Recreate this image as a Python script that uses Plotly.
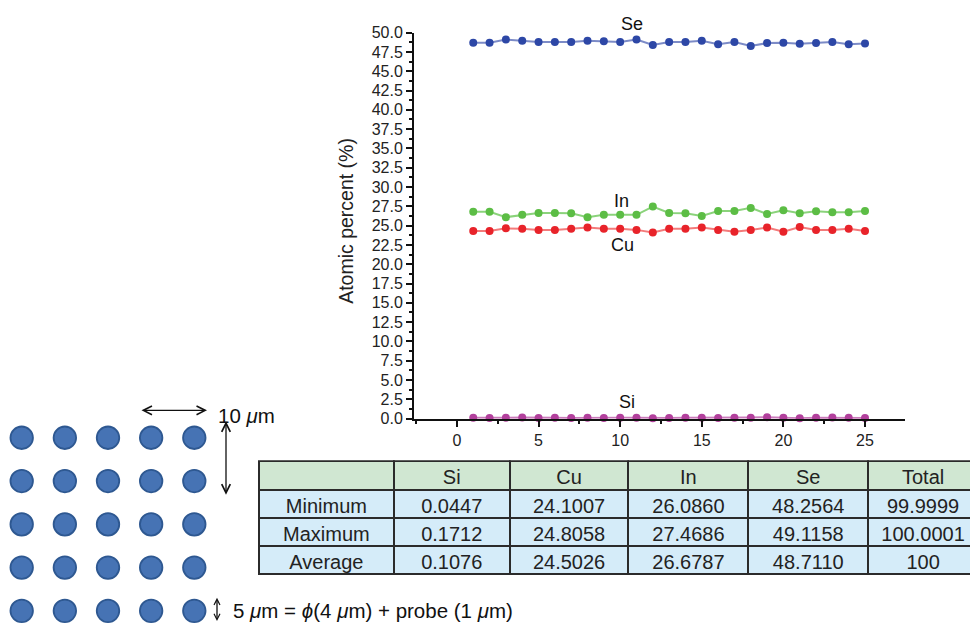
import plotly.graph_objects as go

# ---------------- data ----------------
points = list(range(1, 26))
se_vals = [48.7, 48.7, 49.1, 48.95, 48.8, 48.8, 48.8, 48.95, 48.9, 48.8, 49.1, 48.4, 48.8,
           48.8, 48.95, 48.5, 48.8, 48.26, 48.65, 48.7, 48.55, 48.65, 48.8, 48.5, 48.6]
in_vals = [26.8, 26.8, 26.1, 26.4, 26.65, 26.65, 26.6, 26.09, 26.4, 26.4, 26.4, 27.47, 26.65,
           26.6, 26.25, 26.9, 26.9, 27.3, 26.5, 27.0, 26.6, 26.85, 26.75, 26.75, 26.9]
cu_vals = [24.3, 24.3, 24.65, 24.6, 24.45, 24.45, 24.6, 24.75, 24.6, 24.6, 24.45, 24.1, 24.6,
           24.6, 24.75, 24.45, 24.2, 24.45, 24.75, 24.2, 24.81, 24.45, 24.45, 24.6, 24.3]
si_vals = [0.12, 0.09, 0.11, 0.14, 0.08, 0.10, 0.09, 0.12, 0.07, 0.13, 0.11, 0.06, 0.09,
           0.12, 0.10, 0.08, 0.11, 0.13, 0.17, 0.10, 0.05, 0.12, 0.14, 0.11, 0.09]

series_names = ["In", "Cu", "Si"]
label_x = [10.09, 10.15, 10.4]
label_y = [28.24, 22.5, 2.1]

table_header = ["", "Si", "Cu", "In", "Se", "Total"]
row_labels = ["Minimum", "Maximum", "Average"]
si_stats = ["0.0447", "0.1712", "0.1076"]
cu_stats = ["24.1007", "24.8058", "24.5026"]
in_stats = ["26.0860", "27.4686", "26.6787"]
se_stats = ["48.2564", "49.1158", "48.7110"]
total_stats = ["99.9999", "100.0001", "100"]

grid_cols = [1, 2, 3, 4, 5]
grid_rows = [1, 2, 3, 4, 5]

# ---------------- page geometry ----------------
OFFX = 8           # left page margin
W, H = 970, 617
TOP = 16           # space above the figure on the page
SY = 625 / (TOP + H + 8)   # vertical fit of the photographed page


def px(x):
    return (x - OFFX) / W


def py(y):
    return 1 - (y / SY - TOP) / H


colors = {"Se": "#2d47a6", "In": "#5cbd45", "Cu": "#e8232a", "Si": "#b2409c"}
line_colors = {"Se": "rgba(80,100,180,0.75)", "In": "rgba(110,200,90,0.8)",
               "Cu": "rgba(240,90,90,0.8)", "Si": "rgba(190,90,170,0.8)"}
vals = {"Se": se_vals, "In": in_vals, "Cu": cu_vals, "Si": si_vals}
FONT = "Liberation Sans, Arial, sans-serif"
TFONT = "Liberation Sans Narrow, Arial Narrow, Liberation Sans, Arial"

fig = go.Figure()

for name in ["Si", "Cu", "In", "Se"]:
    fig.add_trace(go.Scatter(
        x=points, y=vals[name], mode="lines+markers", name=name,
        line=dict(color=line_colors[name], width=2),
        marker=dict(color=colors[name], size=8),
        cliponaxis=False, xaxis="x", yaxis="y"))

# dot grid
gx = [c for r in grid_rows for c in grid_cols]
gy = [r for r in grid_rows for c in grid_cols]
ybot = SY * (TOP + H)  # photographed y of the figure bottom
fig.add_trace(go.Scatter(
    x=gx, y=gy, mode="markers",
    marker=dict(size=22.5, color="#4673b4", line=dict(color="#2e5891", width=1.8)),
    xaxis="x2", yaxis="y2", hoverinfo="skip", cliponaxis=False))

# table
fig.add_trace(go.Table(
    domain=dict(x=[px(259), 1.0], y=[0.0, py(462)]),
    columnwidth=[135, 116, 119, 120, 120, 110],
    header=dict(values=table_header, fill_color="#d0e7d2",
                line=dict(color="#2b2b2b", width=2),
                font=dict(family=TFONT, size=20, color="#222"),
                align="center", height=28 / SY),
    cells=dict(values=[row_labels, si_stats, cu_stats, in_stats, se_stats, total_stats],
               fill_color="#d5ecf9",
               line=dict(color="#2b2b2b", width=2),
               font=dict(family=TFONT, size=20, color="#222"),
               align="center", height=27.3 / SY)))

annotations = []
for n, lx, ly in zip(series_names, label_x, label_y):
    annotations.append(dict(x=lx, y=ly, xref="x", yref="y", text=n, showarrow=False,
                            xanchor="center", yanchor="middle",
                            font=dict(family=FONT, size=18, color="#111")))
# Se label sits above the plotting range
annotations.append(dict(x=10.71, y=py(24), xref="x", yref="paper", text="Se", showarrow=False,
                        xanchor="center", yanchor="middle",
                        font=dict(family=FONT, size=18, color="#111")))

annotations.append(dict(x=px(346), y=py(221), xref="paper", yref="paper",
                        text="Atomic percent (%)", textangle=-90, showarrow=False,
                        xanchor="center", yanchor="middle",
                        font=dict(family=FONT, size=19.5, color="#222")))

arrow_style = dict(showarrow=True, arrowhead=5, startarrowhead=5, arrowside="end+start",
                   arrowwidth=1.3, arrowsize=1.3, startarrowsize=1.3, arrowcolor="#111", text="")
# horizontal 10 um arrow
annotations.append(dict(x=px(207), y=py(411), xref="paper", yref="paper",
                        ax=-67, ay=0, **arrow_style))
annotations.append(dict(x=px(216), y=py(416), xref="paper", yref="paper",
                        text="10 <i>μ</i>m", showarrow=False, xanchor="left", yanchor="middle",
                        font=dict(family=FONT, size=20.5, color="#111")))
# vertical arrow
annotations.append(dict(x=px(226), y=py(422), xref="paper", yref="paper",
                        ax=0, ay=73 / SY, **arrow_style))
# small vertical arrow
small_arrow = dict(arrow_style)
small_arrow.update(arrowsize=0.9, startarrowsize=0.9)
annotations.append(dict(x=px(217), y=py(599), xref="paper", yref="paper",
                        ax=0, ay=24 / SY, **small_arrow))
annotations.append(dict(x=px(231), y=py(612), xref="paper", yref="paper",
                        text="5 <i>μ</i>m = <i>ϕ</i>(4 <i>μ</i>m) + probe (1 <i>μ</i>m)",
                        showarrow=False, xanchor="left", yanchor="middle",
                        font=dict(family=FONT, size=20.5, color="#111")))

fig.update_layout(
    width=W, height=H, margin=dict(l=0, r=0, t=0, b=0),
    paper_bgcolor="white", plot_bgcolor="rgba(0,0,0,0)", showlegend=False,
    font=dict(family=FONT, color="#222"),
    xaxis=dict(domain=[px(414), px(905)], range=[-2.63, 27.45], anchor="y",
               tickvals=[0, 5, 10, 15, 20, 25], ticks="outside", ticklen=6, tickwidth=2,
               tickcolor="#111", showline=True, linecolor="#111", linewidth=2,
               showgrid=False, zeroline=False, tickfont=dict(size=16, color="#222"),
               minor=dict(dtick=2.5, tick0=0, ticks="outside", ticklen=3, tickwidth=1.5, tickcolor="#111")),
    yaxis=dict(domain=[py(419.3), py(32.3)], range=[0, 50], anchor="x",
               dtick=2.5, tick0=0, tickformat=".1f", ticks="outside", ticklen=6, tickwidth=2,
               tickcolor="#111", showline=True, linecolor="#111", linewidth=2,
               showgrid=False, zeroline=False, tickfont=dict(size=16, color="#222"),
               minor=dict(dtick=1.25, tick0=0, ticks="outside", ticklen=3, tickwidth=1.5, tickcolor="#111")),
    xaxis2=dict(domain=[0, px(220)], range=[1 - (21.7 - OFFX) / 43.15, 1 + (220 - 21.7) / 43.15],
                anchor="y2", visible=False),
    yaxis2=dict(domain=[0, py(415)], range=[5 + (ybot - 612) / 43.4, 1 - (438.5 - 415) / 43.4],
                anchor="x2", visible=False),
    annotations=annotations,
)

fig.write_html("out.html")
